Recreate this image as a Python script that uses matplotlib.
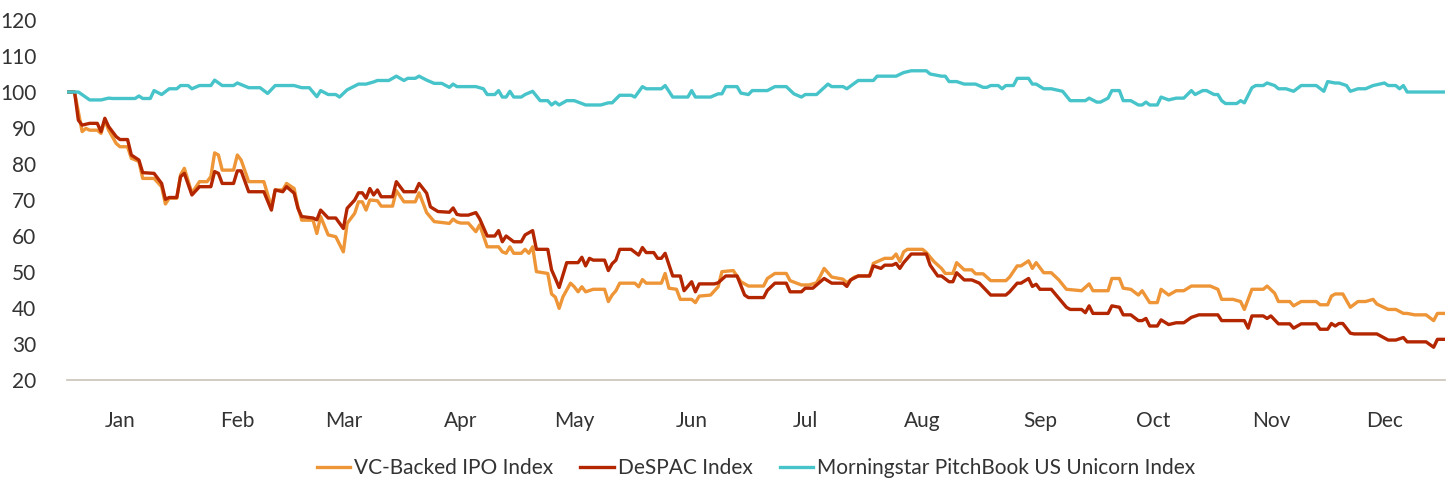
import matplotlib
matplotlib.use("Agg")
import matplotlib.pyplot as plt
import matplotlib.dates as mdates
import pandas as pd

plt.rcParams['font.family'] = ['Lato', 'DejaVu Sans']

# days counted from 1 Jan 2022
ipo_days = [0, 2, 4, 5, 6, 8, 9, 10, 11, 13, 14, 16, 17, 19, 20, 23, 25, 26, 27, 29, 30, 31, 33, 35, 37, 38, 39, 40, 41, 44, 45, 46, 48, 52, 54, 55, 57, 58, 60, 61, 62, 65, 66, 67, 69, 71, 73, 74, 76, 77, 78, 79, 80, 82, 83, 86, 87, 89, 92, 93, 95, 97, 101, 102, 103, 104, 106, 108, 109, 111, 114, 115, 116, 117, 118, 120, 121, 122, 123, 124, 127, 128, 129, 130, 131, 133, 134, 135, 136, 137, 139, 142, 143, 144, 145, 146, 150, 151, 152, 153, 157, 158, 159, 161, 162, 165, 166, 167, 170, 172, 173, 176, 178, 180, 184, 185, 187, 190, 191, 194, 196, 198, 199, 200, 202, 205, 206, 208, 209, 212, 213, 216, 218, 219, 220, 221, 222, 226, 227, 229, 231, 232, 234, 235, 237, 239, 240, 242, 244, 248, 249, 251, 252, 254, 255, 256, 258, 260, 262, 264, 268, 270, 271, 275, 276, 278, 279, 281, 283, 284, 286, 288, 289, 291, 293, 295, 297, 302, 304, 305, 308, 310, 311, 313, 316, 317, 319, 320, 323, 324, 326, 330, 331, 333, 334, 335, 337, 339, 341, 343, 345, 346, 349, 351, 353, 354, 356, 359, 361, 362, 364]
ipo_values = [100, 100, 89.0, 89.9, 89.4, 89.4, 88.5, 92.2, 89.4, 85.7, 84.8, 84.8, 81.6, 80.7, 76.0, 76.0, 73.7, 68.9, 70.5, 70.5, 77.0, 78.8, 71.9, 75.1, 75.1, 76.5, 83.1, 82.5, 78.3, 78.3, 82.5, 81.1, 75.1, 75.1, 68.1, 72.8, 72.8, 74.6, 73.2, 68.1, 64.4, 64.4, 60.7, 65.4, 60.3, 59.8, 55.6, 63.5, 66.3, 69.5, 69.5, 67.2, 70.0, 69.8, 68.3, 68.3, 72.6, 69.5, 69.5, 72.0, 66.5, 64.0, 63.5, 64.7, 63.9, 63.6, 63.6, 61.2, 63.1, 57.0, 57.0, 55.6, 55.2, 57.0, 55.2, 55.2, 56.3, 55.2, 57.0, 50.1, 49.6, 43.9, 43.0, 39.9, 43.1, 46.9, 45.9, 44.5, 45.9, 44.5, 45.2, 45.2, 41.8, 43.6, 44.8, 46.9, 46.9, 45.9, 47.9, 46.9, 46.9, 49.6, 45.5, 45.2, 42.4, 42.4, 41.5, 43.3, 43.6, 45.9, 50.1, 50.4, 47.3, 46.1, 46.1, 48.2, 49.6, 49.6, 47.6, 46.4, 46.4, 47.0, 48.9, 51.0, 48.6, 48.0, 47.0, 48.6, 48.9, 48.9, 52.4, 53.8, 53.8, 55.0, 52.9, 55.6, 56.3, 56.3, 55.4, 52.9, 51.0, 49.6, 49.6, 52.6, 50.6, 50.6, 49.5, 49.5, 47.6, 47.6, 48.6, 51.7, 51.7, 53.1, 51.0, 52.6, 49.8, 49.8, 47.8, 45.2, 44.8, 46.7, 44.8, 44.8, 48.2, 48.2, 45.5, 45.2, 43.6, 44.8, 41.5, 41.5, 45.2, 43.6, 44.8, 44.8, 46.1, 46.1, 45.2, 42.4, 42.4, 41.8, 39.6, 45.2, 45.2, 46.1, 44.1, 41.8, 41.8, 40.6, 41.8, 41.8, 40.9, 40.9, 43.3, 43.9, 43.9, 40.2, 41.8, 41.8, 42.4, 41.1, 39.6, 39.6, 38.5, 38.5, 38.1, 38.1, 36.5, 38.5, 38.5]

despac_days = [0, 2, 3, 4, 6, 8, 9, 10, 11, 13, 14, 16, 17, 19, 20, 23, 25, 26, 27, 29, 30, 31, 33, 35, 38, 39, 40, 41, 44, 45, 46, 48, 52, 54, 55, 57, 58, 60, 61, 62, 65, 66, 67, 69, 71, 73, 74, 76, 77, 78, 79, 80, 81, 82, 83, 86, 87, 89, 92, 93, 95, 96, 98, 101, 102, 103, 104, 106, 108, 109, 111, 113, 114, 115, 116, 118, 120, 121, 123, 124, 127, 128, 129, 130, 132, 135, 136, 137, 138, 139, 142, 143, 144, 145, 146, 149, 151, 152, 153, 155, 156, 157, 158, 160, 162, 163, 165, 166, 167, 171, 172, 174, 177, 179, 180, 184, 185, 187, 190, 191, 194, 195, 197, 200, 202, 205, 206, 207, 209, 212, 213, 215, 216, 218, 219, 220, 221, 223, 227, 228, 230, 231, 233, 234, 235, 237, 239, 241, 244, 248, 249, 251, 252, 254, 255, 256, 257, 260, 262, 264, 265, 268, 269, 270, 271, 275, 276, 278, 279, 281, 283, 284, 285, 286, 288, 289, 291, 293, 295, 297, 299, 304, 305, 311, 312, 313, 316, 317, 318, 320, 323, 324, 326, 330, 331, 333, 334, 335, 336, 337, 339, 340, 346, 349, 351, 353, 354, 359, 361, 362, 364]
despac_values = [100, 100, 92.2, 90.8, 91.3, 91.3, 89.0, 92.7, 90.4, 87.6, 86.8, 86.8, 82.5, 81.1, 77.6, 77.4, 74.6, 70.2, 70.7, 70.7, 76.5, 77.4, 71.4, 73.7, 73.7, 77.9, 77.4, 74.6, 74.6, 78.1, 78.1, 72.3, 72.3, 67.2, 72.8, 72.3, 73.7, 71.9, 67.7, 65.4, 65.0, 64.5, 67.2, 65.0, 65.0, 62.1, 67.7, 70.0, 72.0, 72.0, 70.5, 73.2, 71.4, 72.8, 70.9, 70.9, 75.1, 72.3, 72.3, 74.6, 71.9, 68.1, 66.8, 66.6, 67.8, 66.0, 65.8, 65.8, 66.5, 64.8, 60.0, 60.0, 61.5, 58.4, 60.0, 58.4, 58.4, 60.3, 61.5, 56.3, 56.3, 50.6, 48.2, 45.7, 52.6, 52.6, 54.1, 51.7, 53.8, 53.3, 53.3, 50.4, 52.3, 53.3, 56.3, 56.3, 54.7, 56.8, 55.4, 55.4, 53.8, 53.8, 55.2, 48.9, 48.9, 44.8, 47.3, 44.5, 46.7, 46.7, 47.0, 48.9, 48.9, 43.6, 42.9, 42.9, 44.9, 46.9, 46.9, 44.5, 44.5, 45.5, 45.5, 48.2, 46.9, 46.9, 46.0, 47.8, 48.9, 48.9, 51.7, 51.0, 51.9, 51.9, 52.4, 51.0, 52.6, 55.0, 55.0, 51.9, 48.9, 48.9, 47.3, 47.3, 49.8, 47.8, 47.8, 46.9, 43.6, 43.6, 44.5, 46.9, 46.9, 48.2, 46.0, 46.6, 45.2, 45.2, 42.7, 40.2, 39.6, 39.6, 38.7, 40.6, 38.5, 38.5, 40.6, 40.2, 38.1, 38.1, 36.5, 36.5, 37.1, 35.0, 35.0, 36.7, 35.4, 35.9, 35.9, 37.4, 38.1, 38.1, 36.5, 36.5, 34.4, 37.8, 37.8, 37.1, 37.8, 35.6, 35.6, 34.4, 35.6, 35.6, 34.1, 34.1, 35.7, 35.0, 35.7, 35.7, 33.0, 32.8, 32.8, 31.1, 31.1, 31.8, 30.6, 30.6, 29.1, 31.3, 31.3]

unicorn_days = [0, 3, 6, 9, 11, 12, 18, 19, 20, 22, 23, 25, 27, 29, 30, 32, 33, 35, 38, 39, 41, 44, 45, 48, 51, 53, 55, 60, 62, 64, 66, 67, 69, 71, 72, 74, 77, 79, 81, 82, 85, 87, 89, 90, 92, 93, 95, 97, 99, 101, 102, 103, 108, 110, 111, 113, 114, 115, 116, 117, 118, 120, 121, 123, 125, 127, 128, 129, 130, 132, 134, 135, 137, 141, 143, 144, 146, 149, 150, 152, 153, 157, 158, 160, 164, 165, 166, 170, 172, 173, 174, 177, 178, 180, 181, 185, 187, 190, 192, 194, 195, 198, 201, 202, 205, 206, 209, 213, 214, 219, 221, 223, 227, 228, 231, 232, 233, 235, 237, 240, 242, 243, 244, 246, 247, 248, 250, 251, 254, 255, 256, 258, 260, 263, 265, 269, 270, 272, 273, 275, 276, 278, 279, 281, 283, 284, 285, 286, 288, 289, 291, 293, 295, 297, 298, 300, 301, 303, 304, 305, 306, 309, 310, 311, 313, 314, 316, 317, 319, 320, 322, 324, 326, 330, 332, 333, 335, 336, 338, 339, 341, 343, 345, 348, 349, 351, 352, 353, 354, 364]
unicorn_values = [100, 100, 97.8, 97.8, 98.3, 98.2, 98.2, 98.9, 98.2, 98.2, 100.4, 99.3, 100.9, 100.9, 101.8, 101.8, 100.9, 101.8, 101.8, 103.3, 101.8, 101.8, 102.5, 101.2, 101.2, 99.6, 101.8, 101.8, 101.2, 101.2, 98.7, 100.4, 99.3, 99.3, 98.6, 100.6, 102.2, 102.2, 102.8, 103.2, 103.2, 104.4, 103.2, 103.8, 103.8, 104.4, 103.3, 102.4, 102.4, 101.3, 102.2, 101.5, 101.5, 100.9, 99.3, 99.3, 100.4, 98.6, 98.6, 100.2, 98.6, 98.6, 99.3, 100.2, 97.6, 97.6, 96.4, 97.2, 96.4, 97.6, 97.6, 97.2, 96.4, 96.4, 97.0, 97.0, 99.1, 99.1, 98.6, 101.5, 100.9, 100.9, 101.8, 98.6, 98.6, 100.4, 98.6, 98.6, 99.5, 99.5, 101.5, 101.5, 99.7, 99.3, 100.4, 100.4, 101.5, 101.5, 99.5, 98.6, 99.3, 99.3, 102.2, 101.5, 101.5, 100.9, 103.2, 103.2, 104.4, 104.4, 105.4, 105.9, 105.9, 105.0, 104.4, 104.4, 102.9, 102.9, 102.2, 102.2, 101.3, 101.3, 101.8, 101.8, 100.9, 101.8, 101.8, 103.8, 103.8, 102.2, 102.2, 100.9, 100.9, 100.2, 97.6, 97.6, 98.3, 97.2, 97.2, 98.3, 100.4, 100.4, 97.6, 97.6, 96.4, 96.4, 97.2, 96.4, 96.4, 98.6, 97.8, 98.3, 98.3, 100.4, 99.3, 100.4, 100.4, 99.3, 99.3, 97.6, 96.8, 96.8, 97.6, 97.0, 101.2, 101.8, 101.8, 102.5, 101.8, 100.9, 100.9, 100.2, 101.8, 101.8, 100.2, 102.9, 102.5, 102.5, 101.8, 100.2, 100.9, 100.9, 101.8, 102.5, 101.8, 101.8, 100.9, 101.8, 100.0, 100.0]

labels = ["VC-Backed IPO Index", "DeSPAC Index", "Morningstar PitchBook US Unicorn Index"]
colors = ["#EE9537", "#B32600", "#47C4CA"]

start = pd.Timestamp("2022-01-01")

def to_dates(days):
    return start + pd.to_timedelta(days, unit="D")

fig = plt.figure(figsize=(14.53, 4.87), dpi=100)
ax = fig.add_axes([0.0461, 0.2197, 0.9484, 0.7392])

ax.plot(to_dates(ipo_days), ipo_values, color=colors[0], lw=2.4, label=labels[0])
ax.plot(to_dates(despac_days), despac_values, color=colors[1], lw=2.4, label=labels[1])
ax.plot(to_dates(unicorn_days), unicorn_values, color=colors[2], lw=2.4, label=labels[2])

ax.set_xlim(start, start + pd.Timedelta(days=364))
ax.set_ylim(20, 120)
ax.set_yticks(range(20, 121, 10))

ax.xaxis.set_major_locator(mdates.MonthLocator(bymonthday=15))
ax.xaxis.set_major_formatter(mdates.DateFormatter("%b"))

for s in ["top", "right", "left"]:
    ax.spines[s].set_visible(False)
ax.spines["bottom"].set_color("#c9c2b6")
ax.spines["bottom"].set_linewidth(1.2)

ax.tick_params(axis="both", length=0, labelsize=15, colors="#333333")
ax.tick_params(axis="y", pad=22)
ax.tick_params(axis="x", pad=22)

ax.legend(loc="center", bbox_to_anchor=(0.5, -0.245), ncol=3, frameon=False,
          fontsize=15, handlelength=1.6, handletextpad=0.2, columnspacing=1.3,
          labelcolor="#333333")

fig.savefig("out.png", dpi=100)
